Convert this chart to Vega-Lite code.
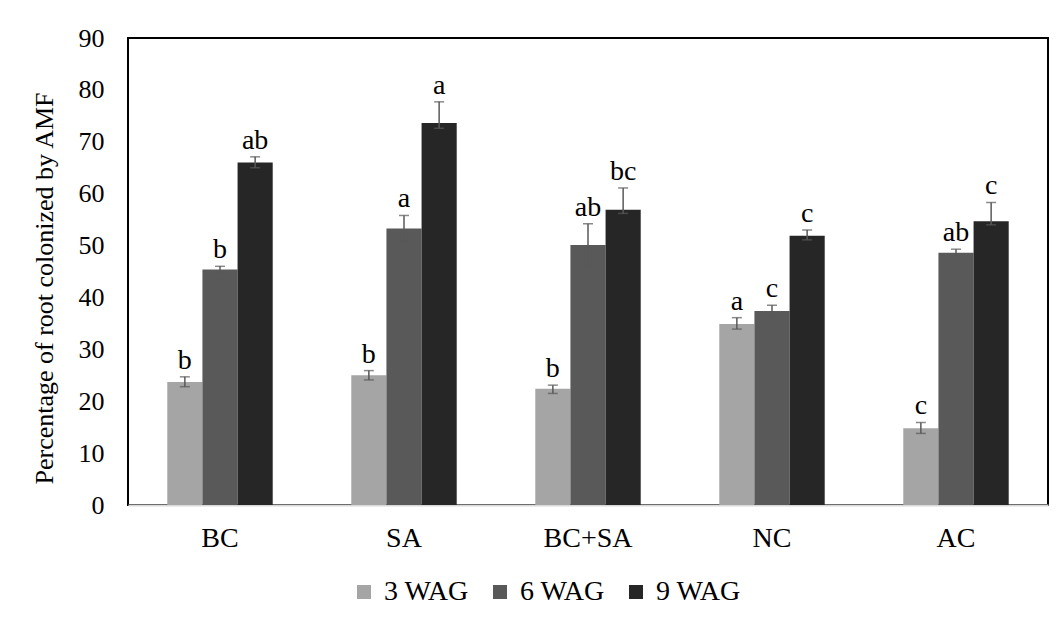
{
  "$schema": "https://vega.github.io/schema/vega-lite/v6.json",
  "width": 920,
  "height": 467,
  "autosize": "none",
  "padding": {"left": 128, "top": 38, "right": 11, "bottom": 117},
  "background": "#ffffff",
  "config": {
    "font": "Liberation Serif",
    "view": {"stroke": "#000000", "strokeWidth": 2},
    "axis": {"labelFont": "Liberation Serif", "titleFont": "Liberation Serif", "labelColor": "#000000", "titleColor": "#000000", "grid": false, "ticks": false, "tickSize": 0}
  },
  "data": {
    "values": [
      {"treatment": "BC", "stage": "3 WAG", "mean": 23.7, "lo": 22.8, "hi": 24.7, "group": "b"},
      {"treatment": "BC", "stage": "6 WAG", "mean": 45.4, "lo": 44.8, "hi": 46.0, "group": "b"},
      {"treatment": "BC", "stage": "9 WAG", "mean": 66.0, "lo": 65.0, "hi": 67.1, "group": "ab"},
      {"treatment": "SA", "stage": "3 WAG", "mean": 25.0, "lo": 24.1, "hi": 25.9, "group": "b"},
      {"treatment": "SA", "stage": "6 WAG", "mean": 53.3, "lo": 50.8, "hi": 55.8, "group": "a"},
      {"treatment": "SA", "stage": "9 WAG", "mean": 73.6, "lo": 72.6, "hi": 77.7, "group": "a"},
      {"treatment": "BC+SA", "stage": "3 WAG", "mean": 22.4, "lo": 21.5, "hi": 23.1, "group": "b"},
      {"treatment": "BC+SA", "stage": "6 WAG", "mean": 50.1, "lo": 46.0, "hi": 54.2, "group": "ab"},
      {"treatment": "BC+SA", "stage": "9 WAG", "mean": 56.9, "lo": 56.2, "hi": 61.1, "group": "bc"},
      {"treatment": "NC", "stage": "3 WAG", "mean": 34.9, "lo": 33.9, "hi": 36.1, "group": "a"},
      {"treatment": "NC", "stage": "6 WAG", "mean": 37.4, "lo": 36.3, "hi": 38.5, "group": "c"},
      {"treatment": "NC", "stage": "9 WAG", "mean": 51.9, "lo": 51.1, "hi": 53.0, "group": "c"},
      {"treatment": "AC", "stage": "3 WAG", "mean": 14.8, "lo": 13.8, "hi": 15.9, "group": "c"},
      {"treatment": "AC", "stage": "6 WAG", "mean": 48.6, "lo": 48.0, "hi": 49.3, "group": "ab"},
      {"treatment": "AC", "stage": "9 WAG", "mean": 54.7, "lo": 54.0, "hi": 58.3, "group": "c"}
    ]
  },
  "encoding": {
    "x": {
      "field": "treatment",
      "type": "nominal",
      "sort": ["BC", "SA", "BC+SA", "NC", "AC"],
      "scale": {"paddingInner": 0.427, "paddingOuter": 0.2135},
      "axis": {"title": null, "labelAngle": 0, "labelFontSize": 28, "labelPadding": 19, "domainColor": "#d9d9d9", "domainWidth": 2}
    },
    "xOffset": {"field": "stage", "type": "nominal", "sort": ["3 WAG", "6 WAG", "9 WAG"], "scale": {"paddingInner": 0, "paddingOuter": 0}}
  },
  "layer": [
    {
      "mark": {"type": "bar"},
      "encoding": {
        "y": {
          "field": "mean",
          "type": "quantitative",
          "scale": {"domain": [0, 90], "nice": false},
          "axis": {
            "title": "Percentage of root colonized by AMF",
            "values": [0, 10, 20, 30, 40, 50, 60, 70, 80, 90],
            "domain": false,
            "labelFontSize": 26,
            "labelPadding": 24,
            "titleFontSize": 26,
            "titleFontWeight": "normal",
            "titleAngle": 270,
            "titleX": -84,
            "titleY": 250,
            "titleAlign": "center",
            "titleBaseline": "middle"
          }
        },
        "color": {
          "field": "stage",
          "type": "nominal",
          "sort": ["3 WAG", "6 WAG", "9 WAG"],
          "scale": {"domain": ["3 WAG", "6 WAG", "9 WAG"], "range": ["#a5a5a5", "#595959", "#262626"]},
          "legend": {
            "title": null,
            "orient": "none",
            "direction": "horizontal",
            "columns": 3,
            "legendX": 222,
            "legendY": 540,
            "symbolType": "square",
            "symbolSize": 196,
            "symbolStrokeWidth": 0,
            "labelFont": "Liberation Serif",
            "labelFontSize": 28,
            "labelColor": "#000000",
            "labelOffset": 6,
            "columnPadding": 17
          }
        }
      }
    },
    {
      "mark": {"type": "rule", "color": "#595959", "strokeWidth": 1.5},
      "encoding": {
        "y": {"field": "lo", "type": "quantitative"},
        "y2": {"field": "hi"}
      }
    },
    {
      "mark": {"type": "tick", "color": "#595959", "size": 10, "thickness": 1.5},
      "encoding": {"y": {"field": "lo", "type": "quantitative"}}
    },
    {
      "mark": {"type": "tick", "color": "#595959", "size": 10, "thickness": 1.5},
      "encoding": {"y": {"field": "hi", "type": "quantitative"}}
    },
    {
      "mark": {"type": "text", "font": "Liberation Serif", "fontSize": 28, "color": "#000000", "baseline": "alphabetic", "dy": -8},
      "encoding": {
        "y": {"field": "hi", "type": "quantitative"},
        "text": {"field": "group"}
      }
    }
  ]
}
